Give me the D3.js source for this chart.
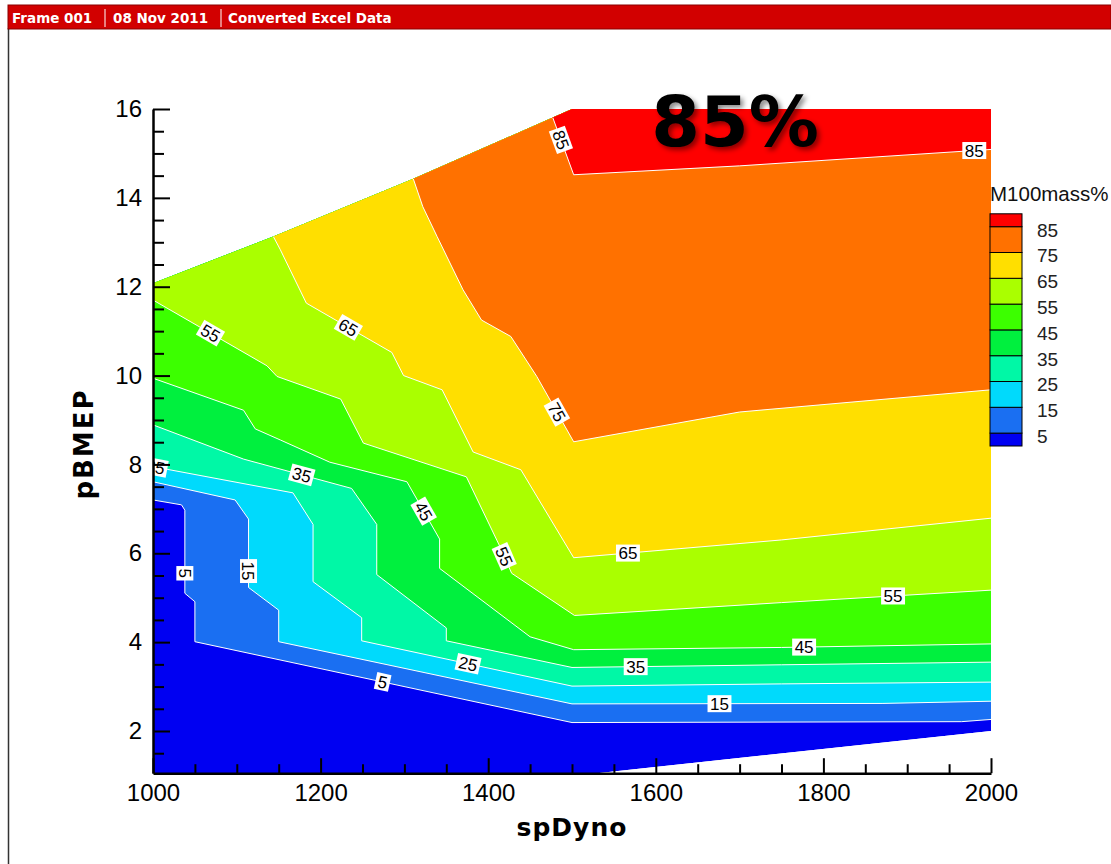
<!DOCTYPE html>
<html><head><meta charset="utf-8">
<script src="https://cdn.jsdelivr.net/npm/d3@7"></script>
<style>body{margin:0;background:#fff}svg{display:block}</style>
</head><body>
<svg id="chart" width="1111" height="864"></svg>
<script>
// ---------------- data ----------------
const headerItems = ["Frame 001", "08 Nov 2011", "Converted Excel Data"];
const xLabel = "spDyno";
const yLabel = "pBMEP";
const legendTitle = "M100mass%";
const annotation = "85%";
const levels = [5, 15, 25, 35, 45, 55, 65, 75, 85];
const bandEdges = [0, 5, 15, 25, 35, 45, 55, 65, 75, 85, 90];
const bandColors = ["#0000f2", "#1a6ff2", "#00dafc", "#00f8a6", "#00f03e", "#3cff00", "#aaff00", "#ffdf00", "#ff7100", "#fe0000"];
const xTicks = [1000, 1200, 1400, 1600, 1800, 2000];
const xMinorTicks = d3.range(1050, 2000, 50).filter(v => v % 200 !== 0);
const yTicks = [2, 4, 6, 8, 10, 12, 14, 16];
const yMinorTicks = d3.range(1.5, 16, 0.5).filter(v => v % 2 !== 0);

// measured region (spDyno, pBMEP)
const domainBoundary = [[1000,1.05],[1530,1.05],[2000,2.0],[2000,16],[1500,16],[1310.6,14.43],[1143.6,13.13],[1000,12.08]];

// contour lines (spDyno, pBMEP), from low-x/top start to x=2000
const line5  = [[1000,7.20],[1034,7.09],[1038,6.97],[1038,5.10],[1050,4.91],[1050,4.01],[1500,2.19],[1965,2.21],[2000,2.26]];
const line15 = [[1000,7.61],[1098,7.20],[1114,6.77],[1114,5.23],[1150,4.72],[1150,4.01],[1500,2.61],[1870,2.62],[2000,2.67]];
const line25 = [[1000,7.95],[1167,7.36],[1191,6.65],[1191,5.36],[1249,4.55],[1249,4.03],[1500,3.01],[1750,3.06],[2000,3.10]];
const line35 = [[1000,8.89],[1108,8.12],[1237,7.46],[1267,6.65],[1267,5.52],[1350,4.32],[1350,4.03],[1500,3.43],[1750,3.49],[2000,3.55]];
const line45 = [[1000,9.94],[1108,9.22],[1122,8.80],[1152,8.55],[1211,8.05],[1303,7.61],[1342,6.32],[1342,5.66],[1450,4.12],[1502,3.83],[1750,3.88],[2000,3.96]];
const line55 = [[1000,11.70],[1136,10.22],[1148,9.98],[1224,9.47],[1251,8.48],[1374,7.72],[1414,6.15],[1428,5.55],[1503,4.60],[1750,4.89],[2000,5.17]];
const line65 = [[1143.6,13.13],[1152,12.83],[1183,11.63],[1285,10.52],[1299,10.0],[1345,9.68],[1382,8.28],[1439,7.88],[1502,5.90],[1750,6.30],[2000,6.79]];
const line75 = [[1310.6,14.43],[1322,13.8],[1339,13.13],[1370,11.93],[1392,11.25],[1427,10.88],[1458,9.98],[1502,8.51],[1700,9.18],[2000,9.68]];
const line85 = [[1477,15.81],[1502,14.52],[1700,14.72],[2000,15.09]];
const contourLines = [line5, line15, line25, line35, line45, line55, line65, line75, line85];

// contour labels: [level, approx spDyno, approx pBMEP]
const contourLabels = [
  [55,1070,11.0],[65,1233,11.08],[75,1484,9.2],[85,1486,15.3],[85,1980,15.08],
  [25,1003,7.95],[35,1177,7.73],[45,1325,6.97],[55,1418,5.92],
  [5,1038,5.55],[15,1114,5.6],[25,1376,3.52],[5,1274,3.10],
  [65,1567,5.95],[55,1883,5.08],[45,1777,3.88],[35,1576,3.45],[15,1676,2.62]
];

// ---------------- drawing ----------------
const svg = d3.select("#chart");
const W = 1111, H = 864;
svg.append("rect").attr("width", W).attr("height", H).attr("fill", "#fff");

const x = d3.scaleLinear().domain([1000, 2000]).range([153, 991]);
const y = d3.scaleLinear().domain([1.05, 16]).range([773.2, 109]);
const line = d3.line().x(d => x(d[0])).y(d => y(d[1]));

const defs = svg.append("defs");
defs.append("clipPath").attr("id", "dom").append("path")
  .attr("d", line(domainBoundary) + "Z");
defs.append("clipPath").attr("id", "plot").append("rect")
  .attr("x", x(1000)).attr("y", 95).attr("width", x(2000) - x(1000)).attr("height", y(1.05) - 95);
const f = defs.append("filter").attr("id", "shadow").attr("x", "-20%").attr("y", "-20%").attr("width", "140%").attr("height", "140%");
f.append("feDropShadow").attr("dx", 3).attr("dy", 3).attr("stdDeviation", 2.5)
  .attr("flood-color", "#000").attr("flood-opacity", 0.45);

// window border & header
svg.append("line").attr("x1", 8.5).attr("x2", 8.5).attr("y1", 28).attr("y2", H)
  .attr("stroke", "#333").attr("stroke-width", 1.5);
svg.append("rect").attr("x", 8).attr("y", 5).attr("width", W - 8).attr("height", 24)
  .attr("fill", "#d20000").attr("stroke", "#8a0000").attr("stroke-width", 1);
const headerX = [12, 113, 228];
svg.selectAll(".hdr").data(headerItems).join("text").attr("class", "hdr")
  .attr("x", (d, i) => headerX[i]).attr("y", 22.5)
  .attr("fill", "#fff").attr("font-family", "DejaVu Sans").attr("font-weight", "bold")
  .attr("font-size", 13.5).text(d => d);
[105, 221].forEach(sx => svg.append("line").attr("x1", sx).attr("x2", sx).attr("y1", 9).attr("y2", 27)
  .attr("stroke", "#fff").attr("stroke-width", 1));

// filled contours
const field = svg.append("g").attr("clip-path", "url(#dom)");
field.append("path").attr("d", line(domainBoundary) + "Z").attr("fill", bandColors[0]);
contourLines.forEach((pts, i) => {
  const s = pts[0], e = pts[pts.length - 1];
  const poly = pts.concat([[e[0] + 100, e[1]], [e[0] + 100, 17], [s[0] - 10, 17], [s[0] - 10, s[1]]]);
  field.append("path").attr("d", line(poly) + "Z").attr("fill", bandColors[i + 1]);
});
contourLines.forEach(pts => {
  field.append("path").attr("d", line(pts)).attr("fill", "none")
    .attr("stroke", "#fff").attr("stroke-width", 1);
});

// contour labels
const labG = svg.append("g").attr("clip-path", "url(#plot)");
contourLabels.forEach(([lvl, lx, ly]) => {
  const pts = contourLines[levels.indexOf(lvl)].map(p => [x(p[0]), y(p[1])]);
  const P = [x(lx), y(ly)];
  let best = null;
  for (let k = 0; k < pts.length - 1; k++) {
    const a = pts[k], b = pts[k + 1];
    const dx = b[0] - a[0], dy = b[1] - a[1];
    const L2 = dx * dx + dy * dy;
    let t = L2 ? ((P[0] - a[0]) * dx + (P[1] - a[1]) * dy) / L2 : 0;
    t = Math.max(0, Math.min(1, t));
    const q = [a[0] + t * dx, a[1] + t * dy];
    const dd = (q[0] - P[0]) ** 2 + (q[1] - P[1]) ** 2;
    if (!best || dd < best.dd) best = {dd, q, ang: Math.atan2(dy, dx) * 180 / Math.PI};
  }
  let ang = best.ang;
  if (Math.abs(ang) < 6) ang = 0;
  const g = labG.append("g").attr("transform", `translate(${best.q[0]},${best.q[1]}) rotate(${ang})`);
  const r = g.append("rect").attr("fill", "#fff");
  const t = g.append("text").attr("text-anchor", "middle").attr("dy", "0.36em")
    .attr("font-family", "Liberation Sans, Arial, sans-serif").attr("font-size", 17)
    .attr("fill", "#000").text(lvl);
  const w = t.node().getComputedTextLength() + 5;
  r.attr("x", -w / 2).attr("y", -8.5).attr("width", w).attr("height", 17);
});

// axes
const axG = svg.append("g").attr("class", "axes");
axG.append("g").attr("transform", `translate(${x(1000)},0)`)
  .call(d3.axisLeft(y).tickValues(yTicks).tickSize(-17).tickSizeOuter(0).tickPadding(11).tickFormat(d3.format("d")));
axG.append("g").attr("transform", `translate(${x(1000)},0)`)
  .call(d3.axisLeft(y).tickValues(yMinorTicks).tickSize(-11).tickSizeOuter(0).tickFormat(""))
  .select(".domain").remove();
axG.append("g").attr("transform", `translate(0,${y(1.05)})`)
  .call(d3.axisBottom(x).tickValues(xTicks).tickSize(-15).tickSizeOuter(0).tickPadding(11).tickFormat(d3.format("d")));
axG.append("g").attr("transform", `translate(0,${y(1.05)})`)
  .call(d3.axisBottom(x).tickValues(xMinorTicks).tickSize(-9).tickSizeOuter(0).tickFormat(""))
  .select(".domain").remove();
axG.selectAll(".domain").attr("stroke", "#000").attr("stroke-width", 2.5);
axG.selectAll(".tick line").attr("stroke", "#000").attr("stroke-width", 2);
axG.selectAll(".tick text").attr("font-family", "Liberation Sans, Arial, sans-serif")
  .attr("font-size", 24).attr("fill", "#000");

svg.append("text").attr("x", 572).attr("y", 836).attr("text-anchor", "middle")
  .attr("font-family", "DejaVu Sans").attr("font-weight", "bold").attr("font-size", 25)
  .attr("letter-spacing", 1).text(xLabel);
svg.append("text").attr("transform", "translate(93,444) rotate(-90)").attr("text-anchor", "middle")
  .attr("font-family", "DejaVu Sans").attr("font-weight", "bold").attr("font-size", 26)
  .attr("letter-spacing", 2).text(yLabel);

// legend
const ly = d3.scaleLinear().domain([85, 5]).range([226.7, 433.1]);
const leg = svg.append("g");
leg.append("text").attr("x", 990).attr("y", 201).attr("font-family", "Liberation Sans, Arial, sans-serif")
  .attr("font-size", 20.5).attr("fill", "#111").text(legendTitle);
bandColors.forEach((c, i) => {
  leg.append("rect").attr("x", 990).attr("width", 32)
    .attr("y", ly(bandEdges[i + 1])).attr("height", ly(bandEdges[i]) - ly(bandEdges[i + 1]))
    .attr("fill", c).attr("stroke", "#000").attr("stroke-width", 1);
});
leg.selectAll(".ll").data(levels).join("text").attr("class", "ll")
  .attr("x", 1037).attr("y", d => ly(d) + 3).attr("dy", "0.36em")
  .attr("font-family", "Liberation Sans, Arial, sans-serif").attr("font-size", 19).attr("fill", "#222")
  .text(d => d);

// annotation
svg.append("text").attr("x", 735).attr("y", 146).attr("text-anchor", "middle")
  .attr("font-family", "DejaVu Sans").attr("font-weight", "bold").attr("font-size", 70)
  .attr("fill", "#000").attr("filter", "url(#shadow)").text(annotation);
</script>
</body></html>
